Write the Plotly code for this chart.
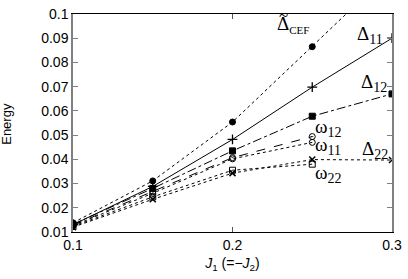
import plotly.graph_objects as go

J = [0.1, 0.15, 0.2, 0.25, 0.3]
J4 = [0.1, 0.15, 0.2, 0.25]

d_cef = [0.0138, 0.0311, 0.0554, 0.0865, 0.118]
d11 = [0.0130, 0.0288, 0.0482, 0.0698, 0.0900]
d12 = [0.0132, 0.0280, 0.0435, 0.0578, 0.0670]
w12 = [0.0128, 0.0266, 0.0407, 0.0494]
w11 = [0.0126, 0.0260, 0.0402, 0.0470]
w22 = [0.0123, 0.0245, 0.0355, 0.0380]
d22 = [0.0120, 0.0235, 0.0343, 0.0399, 0.0397]

y_ticks = [0.01, 0.02, 0.03, 0.04, 0.05, 0.06, 0.07, 0.08, 0.09, 0.1]
y_tick_text = ["0.01", "0.02", "0.03", "0.04", "0.05", "0.06", "0.07", "0.08", "0.09", "0.1"]
x_ticks = [0.1, 0.2, 0.3]
x_tick_text = ["0.1", "0.2", "0.3"]

fig = go.Figure()

def add(x, y, dash, sym, size=6, lw=1, mlw=1):
    fig.add_trace(go.Scatter(
        x=x, y=y, mode="lines+markers",
        line=dict(color="black", width=lw, dash=dash),
        marker=dict(symbol=sym, size=size, color="black",
                    line=dict(color="black", width=mlw)),
        showlegend=False, cliponaxis=True))

add(J, d_cef, "dot", "circle", 6)
add(J, d11, "solid", "cross-thin", 7, mlw=1.3)
add(J, d12, "dashdot", "square", 6)
add(J4, w12, "dash", "circle-open-dot", 6)
add(J4, w11, "dot", "circle-open", 6)
add(J4, w22, "dot", "square-open", 6)
add(J, d22, "dot", "x-thin", 6, mlw=1.5)

L, R, T, B = 73, 12, 6, 47
W, H = 408 - L - R, 279 - T - B

def px2paper(px, py):
    return (px - L) / W, 1 - (py - T) / H

serif = "Liberation Serif, Times New Roman, serif"

def sub(s, fs=14):
    return "<sub><span style='font-size:%dpx'>%s</span></sub>" % (fs, s)

labels = [
    (278, 3, "Δ" + sub("CEF", 11)),
    (359, 13, "Δ" + sub("11")),
    (363, 63, "Δ" + sub("12")),
    (316, 110, "ω" + sub("12")),
    (316, 128, "ω" + sub("11")),
    (364, 132, "Δ" + sub("22")),
    (316, 157, "ω" + sub("22")),
]
for px, py, t in labels:
    x, y = px2paper(px, py)
    fig.add_annotation(x=x, y=y, xref="paper", yref="paper",
                       text=t, showarrow=False, xanchor="left", yanchor="top",
                       font=dict(family=serif, size=19, color="black"))
# tilde over the Delta
x, y = px2paper(286, -4)
fig.add_annotation(x=x, y=y, xref="paper", yref="paper",
                   text="~", showarrow=False, xanchor="center", yanchor="top",
                   font=dict(family=serif, size=17, color="black"))
# y axis title
x, y = px2paper(6, 120)
fig.add_annotation(x=x, y=y, xref="paper", yref="paper", text="Energy",
                   showarrow=False, textangle=-90, xanchor="center", yanchor="middle",
                   font=dict(family="Liberation Sans, Arial, sans-serif", size=13, color="black"))

fig.update_layout(
    width=408, height=279,
    margin=dict(l=L, r=R, t=T, b=B),
    paper_bgcolor="white", plot_bgcolor="white",
    font=dict(family="Liberation Sans, Arial, sans-serif", size=14, color="black"),
    xaxis=dict(range=[0.1, 0.3], tickvals=x_ticks, ticktext=x_tick_text,
               showgrid=False, zeroline=False, showline=True, linecolor="black",
               linewidth=1, mirror="allticks", ticks="inside", ticklen=5,
               tickcolor="#555", ticklabeloverflow="allow",
               title=dict(text="<i>J</i><sub>1</sub> (=−<i>J</i><sub>2</sub>)",
                          standoff=6, font=dict(size=14))),
    yaxis=dict(range=[0.01, 0.1], tickvals=y_ticks, ticktext=y_tick_text,
               showgrid=False, zeroline=False, showline=True, linecolor="#808080",
               linewidth=1.5, mirror="allticks", ticks="inside", ticklen=5,
               tickcolor="#808080", ticklabeloverflow="allow"),
)

fig.write_html("out.html", config={"displayModeBar": False},
               post_script="document.body.style.margin='0';")
